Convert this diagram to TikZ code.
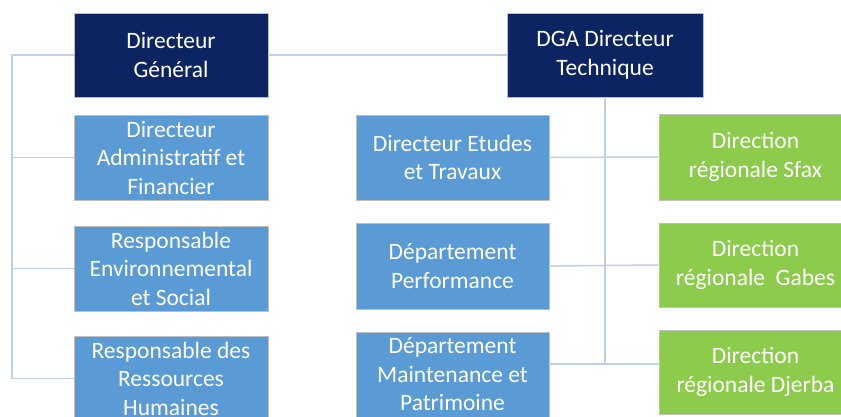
\documentclass[tikz,border=0pt]{standalone}
\usepackage{fontspec}
\setmainfont{Carlito}
\usepackage{tikz}

\definecolor{navy}{HTML}{0C2461}
\definecolor{midblue}{HTML}{5B9BD5}
\definecolor{leaf}{HTML}{8DCB4C}
\definecolor{wire}{HTML}{BDD0E8}

\begin{document}
\begin{tikzpicture}[
                    x=1pt, y=-1pt,
                    every node/.style={
                        rectangle,
                        draw=black!25,
                        line width=0.8pt,
                        text=white,
                        align=center,
                        minimum width=194pt,
                        minimum height=85pt,
                        inner sep=1pt,
                        font=\fontsize{23.5}{28.5}\selectfont
                    },
                    head/.style={fill=navy, minimum height=84pt},
                    unit/.style={fill=midblue},
                    region/.style={fill=leaf, minimum width=193pt},
                    link/.style={draw=wire, line width=1.5pt}
                ]
                    \useasboundingbox (0,0) rectangle (841,416);
                    \clip (0,0) rectangle (841,416);

                    % top level
                    \node[head] (dg) at (171,55) {Directeur\\Général};
                    \node[head, minimum width=196pt] (dga) at (605,55) {DGA Directeur\\Technique};

                    % left column
                    \node[unit] (daf) at (171,157.5) {Directeur\\Administratif et\\Financier};
                    \node[unit] (res) at (171,268.5) {Responsable\\Environnemental\\et Social};
                    \node[unit] (rh) at (171,378.5) {Responsable des\\Ressources\\Humaines};

                    % middle column
                    \node[unit, minimum width=193pt] (det) at (452.5,157.5) {Directeur Etudes\\et Travaux};
                    \node[unit, minimum width=193pt, minimum height=86pt] (perf) at (452.5,266) {Département\\Performance};
                    \node[unit, minimum width=193pt] (maint) at (452.5,374.5) {Département\\Maintenance et\\Patrimoine};

                    % regions
                    \node[region, minimum height=86pt] (sfax) at (755.5,157) {Direction\\régionale Sfax};
                    \node[region, minimum height=84pt] (gabes) at (755.5,265) {Direction\\régionale~~Gabes};
                    \node[region, minimum height=84pt] (djerba) at (755.5,372) {Direction\\régionale Djerba};

                    \coordinate (ltop) at (12,55);
                    \coordinate (jb) at (605,364);

                    % Edges
                    \draw[link] (dg.east) -- (dga.west);
                    \draw[link] (dg.west) -- (ltop) |- (rh.west);
                    \draw[link] (ltop |- daf.west) -- (daf.west);
                    \draw[link] (ltop |- res.west) -- (res.west);
                    \draw[link] (dga.south) -- (jb);
                    \draw[link] (det.east) -- (sfax.west);
                    \draw[link] (perf.east) -- (gabes.west);
                    \draw[link] (maint.east |- jb) -- (djerba.west |- jb);
                \end{tikzpicture}
\end{document}
